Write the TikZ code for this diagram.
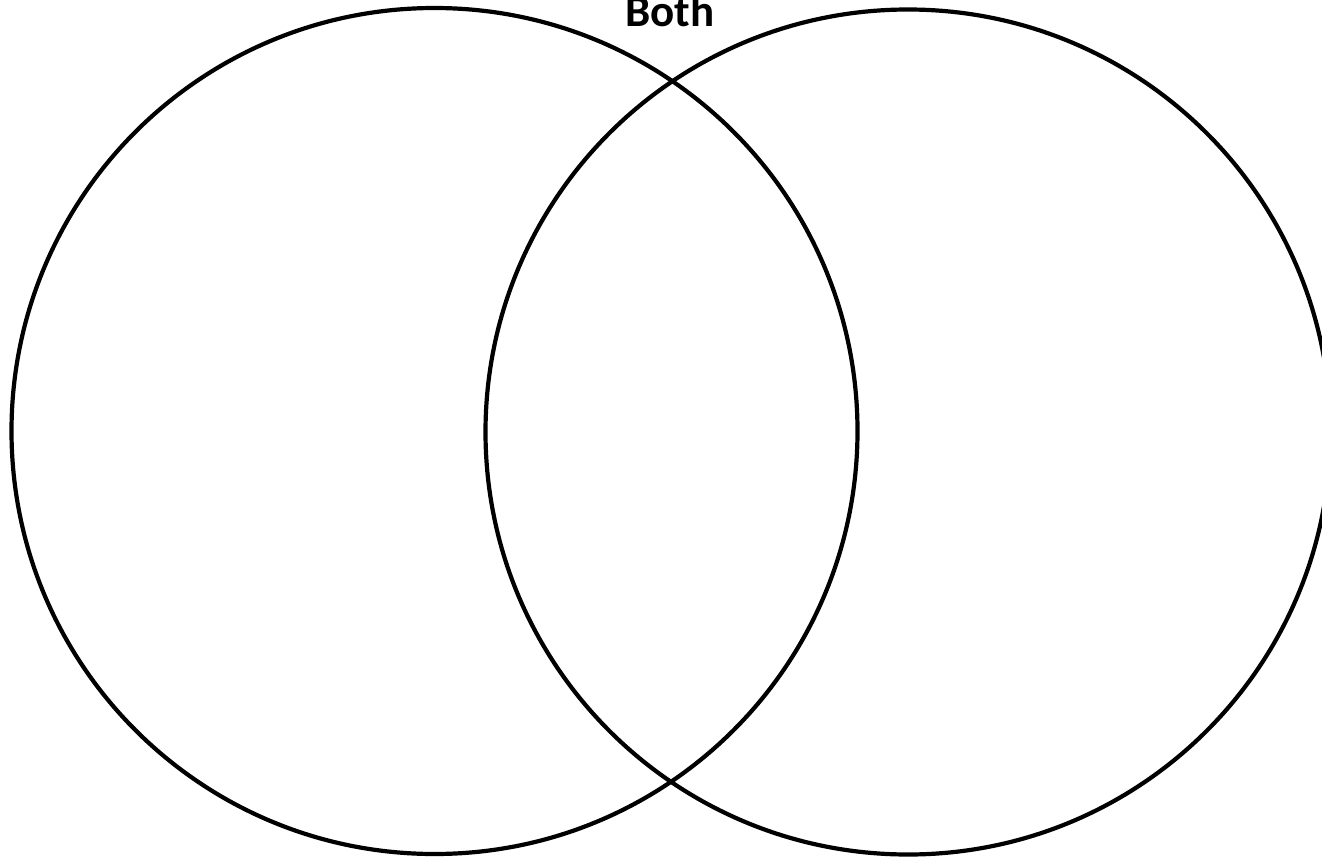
\documentclass[tikz,border=0pt]{standalone}
\usepackage{fontspec}
\setmainfont{Carlito}
\tikzset{vcircle/.style={draw=black, line width=4.2pt}}
\begin{document}
\begin{tikzpicture}[x=1pt,y=-1pt]
\useasboundingbox (0,0) rectangle (1322,859);
\fill[white] (0,0) rectangle (1322,859);
\begin{scope}
\clip (0,0) rectangle (1322,859);
\node[vcircle, circle, minimum size=846pt, inner sep=0pt] (left) at (434.5,431) {};
\node[vcircle, circle, minimum size=845pt, inner sep=0pt] (right) at (908,432) {};
\node[anchor=base, inner sep=0pt, font=\fontsize{45}{50}\selectfont\bfseries] (both) at (670,27) {Both};
\end{scope}
\end{tikzpicture}
\end{document}
